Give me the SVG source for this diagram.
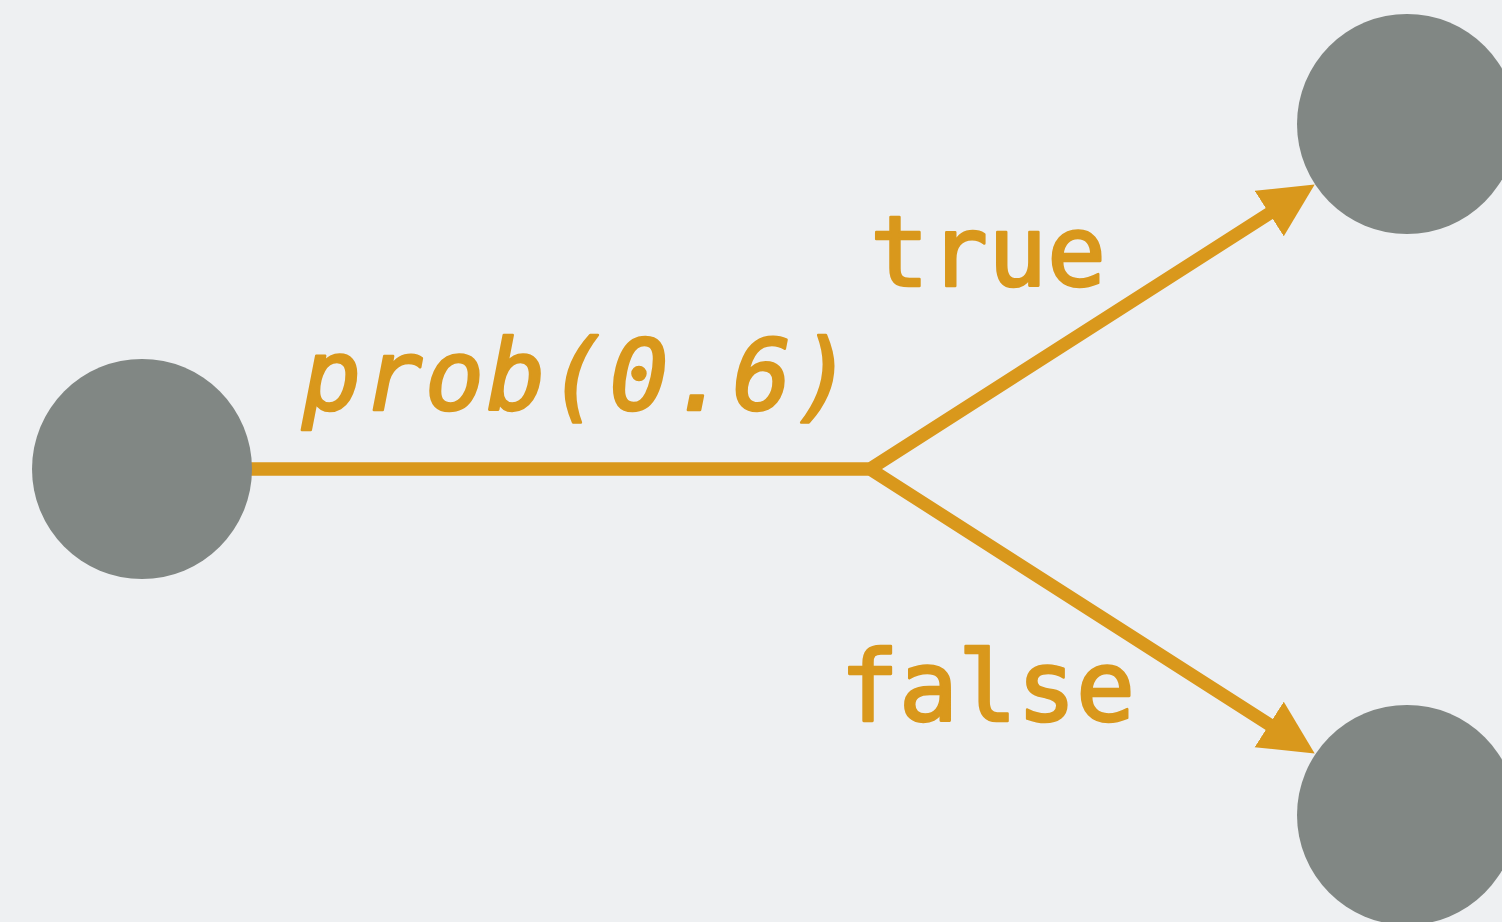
<svg xmlns="http://www.w3.org/2000/svg" width="1502" height="922" viewBox="0 0 1502 922">
<style>
.bg{fill:#eef0f2}
.node{fill:#818784}
.edge{fill:none;stroke:#d9981c;stroke-width:13;stroke-linejoin:miter;stroke-miterlimit:10}
.lbl{fill:#d9981c;stroke:#d9981c;stroke-width:2.6;stroke-linejoin:round;font-family:"DejaVu Sans Mono","Liberation Mono",monospace;font-size:98px}
</style>
<defs>
<marker id="arr" markerUnits="userSpaceOnUse" markerWidth="56" markerHeight="56" refX="14" refY="27" orient="auto" viewBox="0 0 56 56">
<path d="M0,0 L54,27 L0,54 z" fill="#d9981c"/>
</marker>
</defs>
<rect class="bg" x="0" y="0" width="1502" height="922"/>
<g id="connectors">
<path class="edge" d="M250,469 H870 L1281,206" marker-end="url(#arr)"/>
<path class="edge" d="M250,469 H870 L1281,732" marker-end="url(#arr)"/>
<text class="lbl" x="302" y="410" font-style="italic" font-size="99" letter-spacing="2.5">prob(0.6)</text>
<text class="lbl" x="870" y="286">true</text>
<text class="lbl" x="840" y="721">false</text>
</g>
<g id="n-start"><circle class="node" cx="142" cy="469" r="110"/></g>
<g id="n-true"><circle class="node" cx="1407" cy="124" r="110"/></g>
<g id="n-false"><circle class="node" cx="1407" cy="815" r="110"/></g>
</svg>
